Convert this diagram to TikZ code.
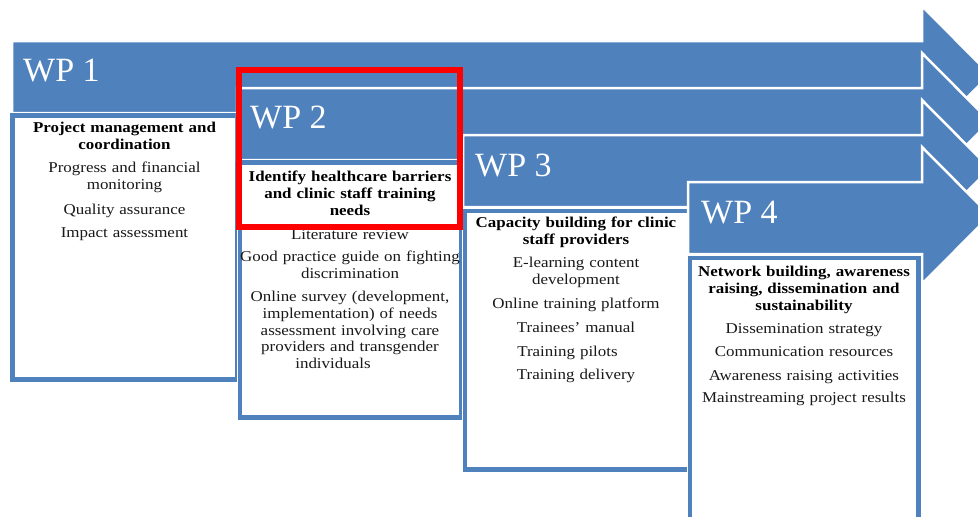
\documentclass[tikz,border=0pt]{standalone}
\usepackage{fontspec}
\setmainfont{Liberation Serif}
\newfontfamily\bodyfont[FakeStretch=1.13]{Liberation Serif}
\definecolor{wpblue}{HTML}{4F81BD}
\definecolor{markred}{HTML}{FF0000}

\tikzset{
  wparrow/.style={fill=wpblue, draw=white, line width=2.5pt, line join=miter},
  wplabel/.style={anchor=base west, text=white, inner sep=0pt,
    font=\fontsize{34}{40}\selectfont},
  boxhalo/.style={draw=white, line width=7pt},
  boxframe/.style={fill=white, draw=wpblue, line width=4.5pt},
  para/.style={anchor=base, align=center, text width=240pt, inner sep=0pt,
    font=\bodyfont\fontsize{15}{16.8}\selectfont, text=black!90},
  headpara/.style={para, font=\bodyfont\fontsize{15}{16.8}\selectfont\bfseries, text=black},
}

\begin{document}
\begin{tikzpicture}[x=1pt, y=-1pt]
\useasboundingbox (0,0) rectangle (978,517);
\clip (0,0) rectangle (978,517);

% ---------- WP 1 ----------
\draw[wparrow] (12,41) -- (922,41) -- (922,6) -- (990,74.5) -- (922,143)
  -- (922,113) -- (12,113) -- cycle;
\node[wplabel] (wp1) at (23,81) {WP 1};
\draw[boxhalo] (12.5,115.5) rectangle (237,379.5);
\draw[boxframe] (12.5,115.5) rectangle (237,379.5);
\node[headpara] (wp1title) at (124.5,132.5) {Project management and\\coordination};
\node[para] (wp1a) at (124.5,172.5) {Progress and financial\\monitoring};
\node[para] (wp1b) at (124.5,214.5) {Quality assurance};
\node[para] (wp1c) at (124.5,237.5) {Impact assessment};

% ---------- WP 2 ----------
\draw[wparrow] (237,88) -- (922,88) -- (922,53) -- (990,121.5) -- (922,190)
  -- (922,160) -- (237,160) -- cycle;
\node[wplabel] (wp2) at (250,128) {WP 2};
\draw[boxhalo] (240,162.5) rectangle (461,417.5);
\draw[boxframe] (240,162.5) rectangle (461,417.5);
\node[headpara] (wp2title) at (350,181.5) {Identify healthcare barriers\\and clinic staff training\\needs};
\node[para] (wp2a) at (350,239.5) {Literature review};
\node[para] (wp2b) at (350,261.5) {Good practice guide on fighting\\discrimination};
\node[para] (wp2c) at (350,301.5) {Online survey (development,\\implementation) of needs\\assessment involving care\\providers and transgender\\individuals\hspace*{34pt}};

% ---------- WP 3 ----------
\draw[wparrow] (463,135) -- (922,135) -- (922,100) -- (990,168.5) -- (922,237)
  -- (922,207) -- (463,207) -- cycle;
\node[wplabel] (wp3) at (475,176.5) {WP 3};
\draw[boxhalo] (465,211) rectangle (689.5,469.5);
\draw[boxframe] (465,211) rectangle (689.5,469.5);
\node[headpara] (wp3title) at (576,227.5) {Capacity building for clinic\\staff providers};
\node[para] (wp3a) at (576,267.5) {E-learning content\\development};
\node[para] (wp3b) at (576,308.5) {Online training platform};
\node[para] (wp3c) at (576,332.5) {Trainees’ manual};
\node[para] (wp3d) at (576,356.5) {Training pilots\hspace*{17pt}};
\node[para] (wp3e) at (576,379.5) {Training delivery};

% ---------- WP 4 ----------
\draw[wparrow] (688,182) -- (922,182) -- (922,147) -- (990,215.5) -- (922,284)
  -- (922,254) -- (688,254) -- cycle;
\node[wplabel] (wp4) at (701,223) {WP 4};
\draw[boxhalo] (690,258) rectangle (918.5,540);
\draw[boxframe] (690,258) rectangle (918.5,540);
\node[headpara] (wp4title) at (804,276.5) {Network building, awareness\\raising, dissemination and\\sustainability};
\node[para] (wp4a) at (804,333.5) {Dissemination strategy};
\node[para] (wp4b) at (804,356.5) {Communication resources};
\node[para] (wp4c) at (804,380.5) {Awareness raising activities};
\node[para] (wp4d) at (804,402.5) {Mainstreaming project results};

% ---------- highlight frame around WP 2 ----------
\draw[markred, line width=6pt] (239,70) rectangle (460,227);
\end{tikzpicture}
\end{document}
